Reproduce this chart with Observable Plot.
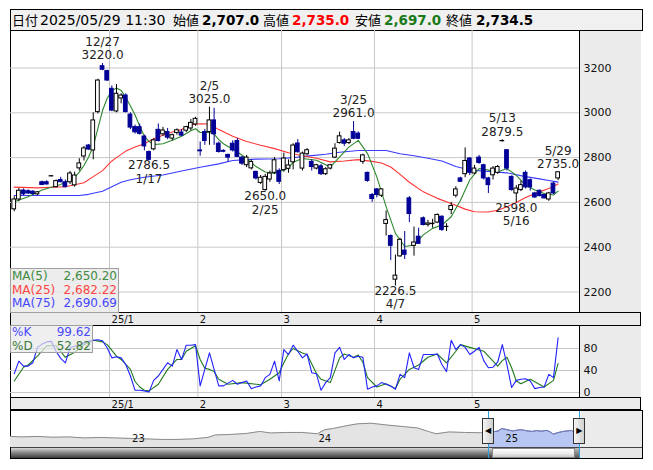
<!DOCTYPE html>
<html><head><meta charset="utf-8">
<script src="https://cdn.jsdelivr.net/npm/d3@7"></script>
<script src="https://cdn.jsdelivr.net/npm/@observablehq/plot@0.6"></script>
<style>
html,body{margin:0;padding:0;background:#fff;}
#root{position:relative;width:653px;height:470px;overflow:hidden;background:#fff;font-family:"DejaVu Sans",sans-serif;}
.abs{position:absolute;box-sizing:border-box;}
.abs svg{display:block;overflow:visible;background:transparent;}
</style></head><body><div id="root"></div>
<script>
// ---------- DATA ----------
const headerLabels = ["日付", "始値", "高値", "安値", "終値"];
const headerValues = ["2025/05/29 11:30", "2,707.0", "2,735.0", "2,697.0", "2,734.5"];

const tradingMonths = ["2024-12", "2025-01", "2025-02", "2025-03", "2025-04", "2025-05"];
const tradingDays = [
  [2,3,4,5,6,9,10,11,12,13,16,17,18,19,20,23,24,25,26,27,30],
  [6,7,8,9,10,14,15,16,17,20,21,22,23,24,27,28,29,30,31],
  [3,4,5,6,7,10,12,13,14,17,18,19,20,21,25,26,27,28],
  [3,4,5,6,7,10,11,12,13,14,17,18,19,21,24,25,26,27,28,31],
  [1,2,3,4,7,8,9,10,11,14,15,16,17,18,21,22,23,24,25,28,30],
  [1,2,7,8,9,12,13,14,15,16,19,20,21,22,23,26,27,28,29]
];
const monthLabels = ["25/1", "2", "3", "4", "5"];

const open = [
2569,2613,2653,2650,2648,2636,2690,2690,2716,2668,
2700,2690,2690,2676,2752,2805,2854,2832,3003,3208,
3186,3107,3006,3064,3077,2992,2936,2936,2894,2825,
2837,2924,2904,2914,2885,2910,2912,2920,2930,2948,
2832,2914,2914,2966,2862,2830,2812,2862,2874,2800,
2766,2752,2736,2687,2655,2702,2732,2741,2744,2750,
2779,2863,2751,2815,2781,2751,2761,2726,2751,2800,
2865,2877,2865,2914,2907,2781,2732,2633,2658,2630,
2504,2450,2255,2359,2385,2618,2406,2447,2529,2500,
2503,2510,2536,2490,2566,2630,2707,2726,2796,2729,
2800,2766,2707,2721,2732,2873,2833,2714,2640,2655,
2732,2699,2640,2652,2633,2613,2684,2707];
const high = [
2625,2662,2660,2656,2652,2648,2695,2697,2720,2700,
2712,2700,2738,2735,2795,2850,2858,3000,3150,3220,
3190,3120,3126,3085,3085,3000,2945,2950,2900,2830,
2884,2950,2935,2930,2905,2928,2925,2940,2970,2980,
2870,2926,3025,3020,2870,2835,2815,2875,2885,2805,
2810,2790,2740,2720,2725,2740,2800,2750,2820,2790,
2862,2880,2825,2840,2790,2770,2770,2755,2770,2862,
2914,2885,2885,2961,2915,2815,2735,2640,2662,2660,
2562,2455,2365,2440,2470,2626,2490,2485,2535,2520,
2525,2548,2540,2505,2600,2670,2712,2843,2800,2765,
2810,2770,2712,2760,2765,2879.5,2835,2718,2675,2695,
2740,2705,2645,2655,2637,2645,2690,2735];
const low = [
2558,2603,2630,2635,2632,2630,2675,2678,2714,2665,
2688,2665,2680,2668,2740,2785,2832,2790,2995,3188,
3140,3005,3000,3040,3000,2925,2905,2900,2830,2786.5,
2830,2870,2895,2880,2875,2900,2895,2912,2920,2940,
2806,2855,2855,2855,2820,2822,2780,2825,2800,2765,
2755,2745,2700,2680,2650,2690,2725,2680,2735,2730,
2745,2820,2740,2808,2740,2745,2720,2720,2745,2795,
2860,2850,2858,2880,2880,2770,2690,2600,2620,2622,
2450,2340,2226.5,2355,2345,2510,2360,2440,2495,2490,
2485,2505,2470,2470,2545,2620,2690,2710,2720,2725,
2770,2700,2640,2700,2725,2870,2740,2650,2598,2648,
2660,2650,2618,2625,2615,2605,2635,2697];
const close = [
2613,2652,2636,2640,2638,2645,2678,2680,2717,2695,
2690,2668,2729,2720,2774,2841,2836,2966,3144,3192,
3144,3010,3085,3077,3003,2934,2913,2906,2850,2790,
2877,2874,2921,2889,2900,2922,2898,2936,2955,2973,
2828,2874,2966,2904,2825,2826,2800,2832,2803,2773,
2800,2780,2707,2710,2714,2729,2788,2692,2796,2765,
2854,2824,2818,2833,2758,2766,2726,2748,2766,2840,
2895,2862,2877,2884,2884,2810,2696,2615,2633,2658,
2521,2406,2273,2433,2366,2548,2421,2415,2499,2506,
2505,2544,2477,2491,2584,2658,2692,2785,2732,2751,
2776,2707,2677,2751,2758,2874,2751,2655,2662,2677,
2667,2667,2622,2628,2618,2640,2640,2734.5];

// [day index, value]
const ma5 = [[0,2603],[3,2625],[6,2655],[10,2680],[13,2712],[14,2735],[15,2765],[16,2803],[17,2850],[18,2930],[19,3010],[20,3065],[21,3098],[22,3111],[23,3100],[24,3068],[25,3030],[26,2990],[27,2940],[28,2895],[29,2872],[30,2859],[31,2860],[32,2862],[34,2877],[36,2895],[38,2920],[39,2929],[40,2912],[42,2912],[43,2905],[44,2880],[45,2862],[46,2850],[48,2825],[50,2796],[52,2760],[54,2736],[56,2729],[58,2745],[59,2754],[60,2779],[62,2796],[65,2788],[68,2758],[70,2803],[72,2847],[74,2877],[76,2818],[78,2714],[80,2581],[82,2462],[84,2403],[86,2410],[88,2455],[90,2484],[92,2499],[94,2536],[96,2610],[98,2700],[100,2751],[102,2744],[104,2736],[106,2751],[108,2721],[110,2677],[112,2655],[114,2640],[116,2633],[117,2650.2]];
const ma25 = [[0,2668],[5,2665],[11,2670],[15,2688],[17,2715],[19,2742],[21,2785],[22,2800],[24,2829],[26,2847],[28,2862],[30,2884],[32,2900],[34,2914],[36,2925],[38,2946],[40,2951],[42,2950],[44,2925],[47,2895],[50,2872],[53,2855],[56,2840],[59,2822],[62,2808],[65,2797],[68,2781],[71,2785],[74,2791],[77,2783],[79,2776],[81,2758],[83,2725],[85,2690],[88,2647],[91,2618],[94,2595],[97,2570],[99,2558],[102,2557],[104,2565],[106,2581],[108,2600],[110,2622],[113,2647],[115,2662],[117,2682.22]];
const ma75 = [[0,2631],[14,2631],[16,2636],[19,2650],[21,2670],[23,2690],[25,2701],[28,2712],[32,2722],[36,2740],[40,2757],[44,2772],[47,2787],[52,2793],[57,2795],[61,2802],[64,2809],[67,2815],[70,2824],[74,2832],[80,2832],[83,2817],[86,2808],[89,2797],[92,2785],[95,2760],[98,2745],[102,2738],[106,2732],[110,2715],[113,2705],[115,2698],[117,2690.69]];
const maNames = ["MA(5)", "MA(25)", "MA(75)"];
const maLast = ["2,650.20", "2,682.22", "2,690.69"];

const stochK = [[0,34],[1,57],[2,48],[3,48],[4,54],[5,82],[6,88],[7,92],[8,93],[9,75],[10,62],[11,54],[12,81],[13,84],[14,87],[15,90],[16,93],[17,95],[18,96],[19,94],[20,81],[21,63],[22,65],[23,63],[24,51],[25,30],[26,4],[27,4],[28,3],[29,1],[30,22],[31,30],[32,42],[33,54],[34,48],[35,78],[36,60],[37,86],[38,86],[39,87],[40,12],[41,42],[42,72],[43,42],[44,12],[45,12],[46,17],[47,22],[48,15],[49,18],[50,21],[51,7],[52,10],[53,12],[54,27],[55,33],[56,57],[57,21],[58,78],[59,69],[60,86],[61,75],[62,63],[63,70],[64,36],[65,34],[66,4],[67,18],[68,27],[69,72],[70,82],[71,60],[72,69],[73,63],[74,66],[75,64],[76,6],[77,10],[78,12],[79,18],[80,15],[81,12],[82,6],[83,33],[84,27],[85,72],[86,45],[87,42],[88,69],[89,69],[90,69],[91,70],[92,51],[93,38],[94,95],[95,78],[96,87],[97,82],[98,69],[99,75],[100,82],[101,58],[102,45],[103,46],[104,55],[105,87],[106,50],[107,9],[108,22],[109,24],[110,25],[111,21],[112,7],[113,9],[114,10],[115,33],[116,27],[117,99.62]];
const stochD = [[0,21],[2,46],[3,50],[5,66],[7,85],[9,85],[11,64],[13,73],[15,87],[17,95],[19,92],[20,87],[22,66],[23,60],[25,42],[26,20],[27,10],[28,4],[29,3],[31,15],[33,42],[35,60],[36,60],[37,75],[39,85],[40,60],[41,44],[42,42],[43,38],[44,24],[46,15],[49,18],[53,14],[55,24],[57,36],[58,54],[59,70],[60,80],[62,72],[63,69],[65,35],[66,24],[68,18],[70,63],[71,70],[73,64],[74,68],[75,55],[76,27],[78,10],[80,16],[82,7],[83,24],[85,42],[87,50],[89,64],[91,70],[93,54],[95,75],[96,87],[98,82],[101,75],[104,48],[105,58],[106,64],[107,45],[108,21],[109,16],[111,24],[114,10],[116,22],[117,52.82]];
const stochNames = ["%K", "%D"];
const stochLast = ["99.62", "52.82"];

const hiIndex = [19, 42, 73, 105, 117];
const hiLabel = ["12/27", "2/5", "3/25", "5/13", "5/29"];
const hiValue = [3220.0, 3025.0, 2961.0, 2879.5, 2735.0];
const loIndex = [29, 54, 82, 108];
const loLabel = ["1/17", "2/25", "4/7", "5/16"];
const loValue = [2786.5, 2650.0, 2226.5, 2598.0];

const priceTicks = [2200, 2400, 2600, 2800, 3000, 3200];
const stochTicks = [0, 40, 80];

// navigator (long history)
const navDates = ["2022-05-10","2022-06-01","2022-07-01","2022-08-01","2022-09-01","2022-10-01","2022-11-01","2022-12-01","2023-01-01","2023-02-01","2023-03-01","2023-04-01","2023-05-01","2023-06-01","2023-06-15","2023-07-15","2023-08-15","2023-09-10","2023-10-01","2023-11-01","2023-12-01","2024-01-01","2024-01-15","2024-02-01","2024-03-01","2024-03-20","2024-04-15","2024-05-15","2024-06-15","2024-07-15","2024-08-05","2024-08-20","2024-09-15","2024-10-15","2024-11-15","2024-12-02","2024-12-13","2024-12-20","2024-12-27","2025-01-10","2025-01-17","2025-01-31","2025-02-05","2025-02-14","2025-02-25","2025-03-05","2025-03-14","2025-03-25","2025-04-01","2025-04-07","2025-04-15","2025-04-25","2025-05-02","2025-05-13","2025-05-16","2025-05-23","2025-05-29"];
const navValues = [1904,1823,1904,1774,1823,1661,1742,1661,1580,1499,1418,1418,1499,1742,2147,2228,2390,2714,2471,2552,2552,2341,2989,3200,3686,3961,4059,3767,3524,3281,2714,2341,2633,2552,2503,2613,2695,2774,3192,2934,2790,2973,2966,2803,2714,2854,2748,2884,2633,2273,2499,2692,2776,2874,2662,2628,2734.5];
const navYears = ["2023-01-01", "2024-01-01", "2025-01-01"];
const navYearLabels = ["23", "24", "25"];
const navDomain = ["2022-05-10", "2025-06-03"];
const selStart = "2024-12-01", selEnd = "2025-05-29";

// ---------- BUILD ----------
const FONT = "DejaVu Sans";
const root = document.getElementById("root");
function box(style, html) {
  const d = document.createElement("div");
  d.className = "abs";
  Object.assign(d.style, style);
  if (html != null) d.innerHTML = html;
  root.appendChild(d);
  return d;
}
function place(svg, left, top) { const d = box({left: left + "px", top: top + "px"}); d.appendChild(svg); return d; }

const dates = [];
tradingMonths.forEach((m, k) => tradingDays[k].forEach(day => dates.push(m + "-" + String(day).padStart(2, "0"))));
const candles = dates.map((date, i) => ({i, date, open: open[i], high: high[i], low: low[i], close: close[i], up: close[i] >= open[i]}));
const monthBounds = [];
for (let i = 1; i < dates.length; i++) if (dates[i].slice(0, 7) !== dates[i - 1].slice(0, 7)) monthBounds.push(i - 0.5);
const pts = a => a.map(([i, v]) => ({i, v}));
const hi = hiIndex.map((i, k) => ({i, v: hiValue[k], label: hiLabel[k]}));
const lo = loIndex.map((i, k) => ({i, v: loValue[k], label: loLabel[k]}));

// chrome: backgrounds & borders
box({left: "10px", top: "30px", width: "631px", height: "429px", borderLeft: "1px solid #000", borderRight: "1px solid #000"});
box({left: "579px", top: "30px", width: "62px", height: "282px", background: "#ebebeb", borderLeft: "1px solid #000"});
box({left: "10px", top: "312px", width: "631px", height: "14px", background: "#ebebeb", borderTop: "1px solid #000", borderBottom: "1px solid #000", borderLeft: "1px solid #000", borderRight: "1px solid #000"});
box({left: "579px", top: "326px", width: "62px", height: "71px", background: "#ebebeb", borderLeft: "1px solid #000"});
box({left: "10px", top: "397px", width: "631px", height: "13px", background: "#ebebeb", borderTop: "1px solid #000", borderBottom: "1px solid #000", borderLeft: "1px solid #000", borderRight: "1px solid #000"});

// header
const hdr = box({left: "10px", top: "9px", width: "633px", height: "22px", background: "#f0f0f0", border: "1px solid #000", fontSize: "14px", lineHeight: "20px", color: "#000", whiteSpace: "nowrap"});
const hdrPos = [[1, 29], [162, 191], [252, 281], [344, 373], [435, 465]];
const hdrColors = ["#000", "#000", "#ff0000", "#1a7a1a", "#000"];
headerLabels.forEach((t, k) => {
  const a = document.createElement("span");
  a.textContent = t; a.style.cssText = `position:absolute;left:${hdrPos[k][0]}px;top:0;font-family:'Noto Sans CJK JP',sans-serif;font-size:13px;`;
  hdr.appendChild(a);
  const b = document.createElement("span");
  b.textContent = headerValues[k];
  b.style.cssText = `position:absolute;left:${hdrPos[k][1]}px;top:0;font-family:'DejaVu Sans';color:${hdrColors[k]};font-weight:${k === 0 ? "normal" : "bold"};font-size:${k === 0 ? 14 : 13.5}px;`;
  hdr.appendChild(b);
});

const X = {type: "linear", domain: [-0.8, 121.6], axis: null};

// main price chart
const mainPlot = Plot.plot({
  width: 630, height: 282, marginLeft: 0, marginRight: 61, marginTop: 0, marginBottom: 0,
  x: X, y: {domain: [2108.5, 3367.4], label: null},
  style: {background: "transparent", fontFamily: FONT, overflow: "visible"},
  marks: [
    Plot.gridY(priceTicks, {stroke: "#c8c8c8", strokeOpacity: 1}),
    Plot.gridX(monthBounds, {stroke: "#c8c8c8", strokeOpacity: 1}),
    Plot.axisY(priceTicks, {anchor: "right", tickSize: 0, tickPadding: 4, tickFormat: d => String(d), fontSize: 11, fill: "#111", label: null}),
    Plot.line(pts(ma75), {x: "i", y: "v", stroke: "#3a3aff", strokeWidth: 1.1}),
    Plot.line(pts(ma25), {x: "i", y: "v", stroke: "#ff3535", strokeWidth: 1.1}),
    Plot.line(pts(ma5), {x: "i", y: "v", stroke: "#2c882c", strokeWidth: 1.1}),
    Plot.ruleX(candles, {x: "i", y1: "low", y2: "high", stroke: d => d.up ? "#000000" : "#000096"}),
    Plot.rect(candles, {x1: d => d.i - 0.4, x2: d => d.i + 0.4, y1: "open", y2: "close", fill: d => d.up ? "#ffffff" : "#000096", stroke: d => d.up ? "#000000" : "#000096", strokeWidth: 1}),
    Plot.ruleY(candles.filter(d => d.open === d.close), {y: "close", x1: d => d.i - 0.5, x2: d => d.i + 0.5, stroke: "#000"}),
    Plot.text(hi, {x: "i", y: "v", text: d => d.v.toFixed(1), dy: -8, fontSize: 12, fill: "#222"}),
    Plot.text(hi, {x: "i", y: "v", text: "label", dy: -21.5, fontSize: 12, fill: "#222"}),
    Plot.text(lo, {x: "i", y: "v", text: d => d.v.toFixed(1), dy: 5, fontSize: 12, fill: "#222"}),
    Plot.text(lo, {x: "i", y: "v", text: "label", dy: 18.5, fontSize: 12, fill: "#222"})
  ]
});
place(mainPlot, 10, 30);

// x strips
function strip() {
  return Plot.plot({
    width: 630, height: 12, marginLeft: 0, marginRight: 61, marginTop: 0, marginBottom: 0,
    x: X, style: {background: "transparent", fontFamily: FONT, overflow: "visible"},
    marks: [Plot.text(monthBounds, {x: d => d, text: (d, i) => monthLabels[i], textAnchor: "start", dx: 2, fontSize: 10, fill: "#111"})]
  });
}
place(strip(), 10, 313);
place(strip(), 10, 398);

// stochastic panel
const stochPlot = Plot.plot({
  width: 630, height: 71, marginLeft: 0, marginRight: 61, marginTop: 0, marginBottom: 0,
  x: X, y: {domain: [-9.1, 120], label: null},
  style: {background: "transparent", fontFamily: FONT, overflow: "visible"},
  marks: [
    Plot.gridY(stochTicks, {stroke: "#c8c8c8", strokeOpacity: 1}),
    Plot.gridX(monthBounds, {stroke: "#c8c8c8", strokeOpacity: 1}),
    Plot.axisY(stochTicks, {anchor: "right", tickSize: 0, tickPadding: 4, fontSize: 11, fill: "#111", label: null}),
    Plot.line(pts(stochD), {x: "i", y: "v", stroke: "#1f7a1f", strokeWidth: 1.1}),
    Plot.line(pts(stochK), {x: "i", y: "v", stroke: "#2222ff", strokeWidth: 1.1})
  ]
});
place(stochPlot, 10, 326);

// navigator
box({left: "10px", top: "410px", width: "633px", height: "49px", background: "#fff", border: "1px solid #000"});
const nav = navDates.map((d, k) => ({date: new Date(d), v: navValues[k]}));
const navSel = nav.filter(d => d.date >= new Date(selStart));
const navPlot = Plot.plot({
  width: 632, height: 37, marginLeft: 0, marginRight: 60, marginTop: 2, marginBottom: 0,
  x: {type: "utc", domain: navDomain.map(d => new Date(d)), axis: null},
  y: {domain: [100, 5800], axis: null},
  style: {background: "transparent", fontFamily: FONT, overflow: "visible"},
  marks: [
    Plot.areaY(nav, {x: "date", y1: 100, y2: "v", fill: "#e4e4e4"}),
    Plot.areaY(navSel, {x: "date", y1: 100, y2: "v", fill: "#b8c6f4"}),
    Plot.line(nav, {x: "date", y: "v", stroke: "#8a8a8a", strokeWidth: 1}),
    Plot.line(navSel, {x: "date", y: "v", stroke: "#6a78c8", strokeWidth: 1}),
    Plot.text(navYears, {x: d => new Date(d), text: (d, i) => navYearLabels[i], textAnchor: "start", dx: 1, frameAnchor: "bottom", dy: -6, fontSize: 10, fill: "#111"})
  ]
});
const sx = navPlot.scale("x");
const xs = 10 + sx.apply(new Date(selStart)), xe = 10 + sx.apply(new Date(selEnd));
box({left: (xe + 2) + "px", top: "411px", width: (642 - xe - 2) + "px", height: "36px", background: "#ebebeb"});
place(navPlot, 10, 410);
// scrollbar
box({left: "11px", top: "447px", width: "631px", height: "11px", background: "#e6e6e6", borderTop: "1px solid #444"});
box({left: "11px", top: "448px", width: (xs + 4 - 11) + "px", height: "10px", background: "linear-gradient(#d8d8d8,#8a8a8a 45%,#3a3a3a)"});
box({left: (xs + 4) + "px", top: "448px", width: (xe - xs - 8) + "px", height: "10px", background: "linear-gradient(#ffffff,#e8e8e8 60%,#c8c8c8)", border: "1px solid #888"});
box({left: (xe - 4) + "px", top: "448px", width: "5px", height: "10px", background: "linear-gradient(#bbb,#555)"});
// selection edges & handles
box({left: xs + "px", top: "411px", width: "1px", height: "47px", background: "#2aa0e0"});
box({left: xe + "px", top: "411px", width: "1px", height: "47px", background: "#2aa0e0"});
const hstyle = {top: "418px", width: "12px", height: "26px", border: "1px solid #333", background: "linear-gradient(90deg,#f6f6f6,#d0d0d0)", fontSize: "8px", lineHeight: "24px", textAlign: "center", color: "#000"};
box(Object.assign({left: (xs - 6) + "px"}, hstyle), "&#9664;");
box(Object.assign({left: (xe - 6) + "px"}, hstyle), "&#9654;");

// legends
const maColors = ["#3f8a3f", "#ff4545", "#4545ff"];
const lg = box({left: "10px", top: "268px", width: "109px", height: "45px", background: "rgba(232,232,232,0.78)", border: "1px solid #a0a0a0", fontSize: "12px", lineHeight: "13.5px", fontFamily: FONT});
maNames.forEach((n, k) => {
  const r = document.createElement("div");
  r.style.cssText = `position:absolute;left:1px;right:1px;top:${1 + k * 13.5}px;color:${maColors[k]};`;
  r.innerHTML = `<span>${n}</span><span style="position:absolute;right:0">${maLast[k]}</span>`;
  lg.appendChild(r);
});
const stColors = ["#4a4aff", "#3a7a3a"];
const sg = box({left: "10px", top: "325px", width: "83px", height: "28px", background: "rgba(232,232,232,0.7)", border: "1px solid #a0a0a0", fontSize: "12px", lineHeight: "13px", fontFamily: FONT});
stochNames.forEach((n, k) => {
  const r = document.createElement("div");
  r.style.cssText = `position:absolute;left:1px;right:1px;top:${0 + k * 13.5}px;color:${stColors[k]};`;
  r.innerHTML = `<span>${n}</span><span style="position:absolute;right:0">${stochLast[k]}</span>`;
  sg.appendChild(r);
});
</script></body></html>
